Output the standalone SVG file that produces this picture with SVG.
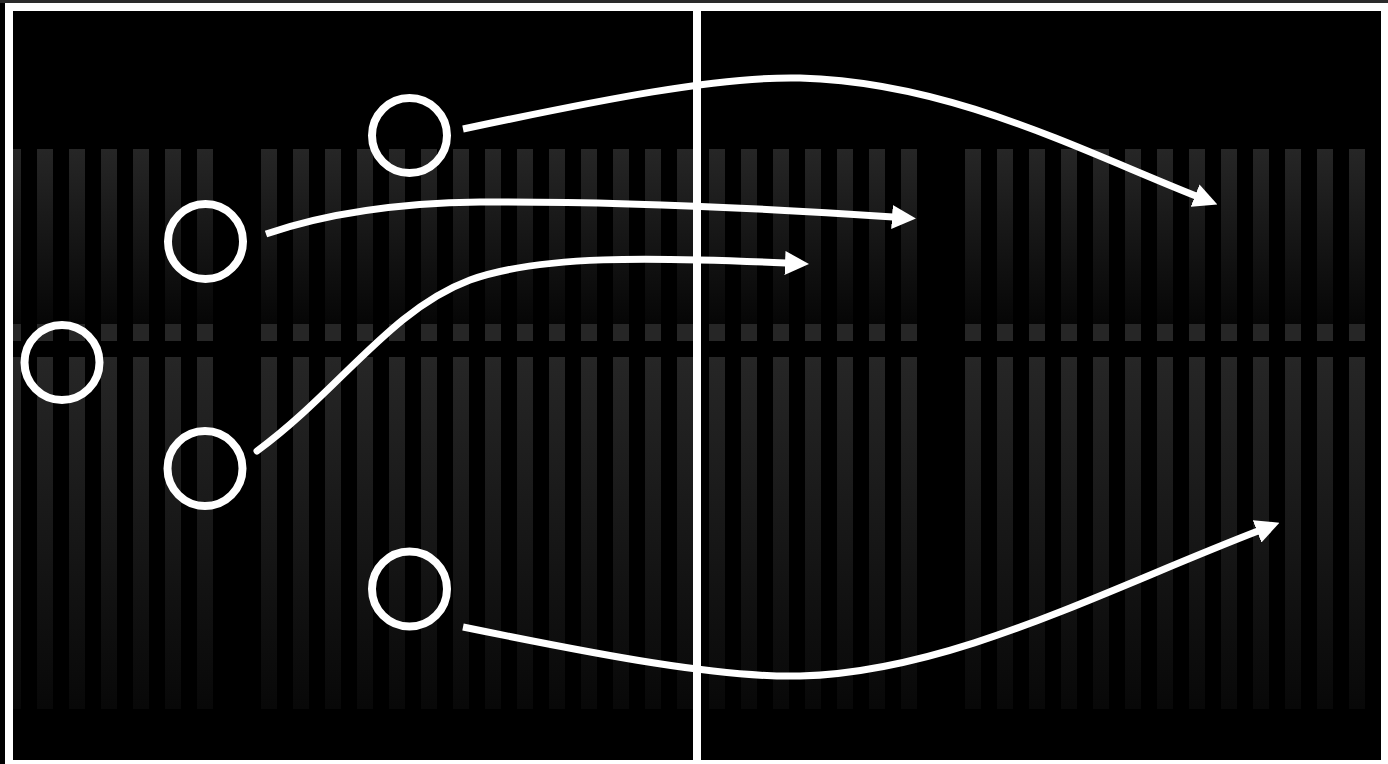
<svg xmlns="http://www.w3.org/2000/svg" width="1388" height="764" viewBox="0 0 1388 764">
  <defs>
    <linearGradient id="gUp" x1="0" y1="0" x2="0" y2="1">
      <stop offset="0" stop-color="#262626"/>
      <stop offset="1" stop-color="#060606"/>
    </linearGradient>
    <linearGradient id="gLow" x1="0" y1="0" x2="0" y2="1">
      <stop offset="0" stop-color="#262626"/>
      <stop offset="1" stop-color="#080808"/>
    </linearGradient>
    <pattern id="pUp" patternUnits="userSpaceOnUse" x="5" y="149" width="32" height="175">
      <rect x="0" y="0" width="16" height="175" fill="url(#gUp)"/>
    </pattern>
    <pattern id="pMid" patternUnits="userSpaceOnUse" x="5" y="324" width="32" height="17">
      <rect x="0" y="0" width="16" height="17" fill="#262626"/>
    </pattern>
    <pattern id="pLow" patternUnits="userSpaceOnUse" x="5" y="357" width="32" height="352">
      <rect x="0" y="0" width="16" height="352" fill="url(#gLow)"/>
    </pattern>
    <marker id="arrow" viewBox="0 0 24 24" refX="1" refY="12" markerWidth="24" markerHeight="24" markerUnits="userSpaceOnUse" orient="auto">
      <path d="M0,0 L24,12 L0,24 z" fill="#ffffff"/>
    </marker>
    <style>
      .player { fill: none; stroke: #ffffff; stroke-width: 8; }
      .run { fill: none; stroke: #ffffff; stroke-width: 7; marker-end: url(#arrow); }
      .line { fill: none; stroke: #ffffff; stroke-width: 8; }
    </style>
  </defs>

  <!-- pitch background -->
  <rect x="0" y="0" width="1388" height="764" fill="#000000"/>
  <rect x="0" y="0" width="1388" height="3" fill="#2a2a2a"/>
  <rect x="13" y="149" width="1352" height="175" fill="url(#pUp)"/>
  <rect x="13" y="324" width="1352" height="17" fill="url(#pMid)"/>
  <rect x="13" y="357" width="1352" height="352" fill="url(#pLow)"/>
  <rect x="229" y="149" width="16" height="560" fill="#000000"/>
  <rect x="933" y="149" width="16" height="560" fill="#000000"/>

  <!-- pitch lines -->
  <rect class="line" x="9" y="7" width="1376" height="757"/>
  <line class="line" x1="697" y1="7" x2="697" y2="764"/>

  <!-- players -->
  <g id="player-1"><circle class="player" cx="409.5" cy="135.5" r="37.5"/></g>
  <g id="player-2"><circle class="player" cx="205.5" cy="241.5" r="37.5"/></g>
  <g id="player-3"><circle class="player" cx="62" cy="362.5" r="37.5"/></g>
  <g id="player-4"><circle class="player" cx="205" cy="468.5" r="37.5"/></g>
  <g id="player-5"><circle class="player" cx="409.5" cy="589" r="37.5"/></g>

  <!-- runs -->
  <g id="connectors">
    <path class="run" d="M463,129 C600,100 720,76 800,78 C950,82 1080,150 1196,196"/>
    <path class="run" d="M266,234 C330,212 400,203 480,202 C620,201 760,208 893,217"/>
    <path class="run" style="stroke-linecap:round" d="M257,451 C340,390 390,310 470,280 C540,255 650,257 786,263"/>
    <path class="run" d="M463,627 C600,655 720,678 800,676 C950,672 1100,592 1258,531"/>
  </g>
</svg>
